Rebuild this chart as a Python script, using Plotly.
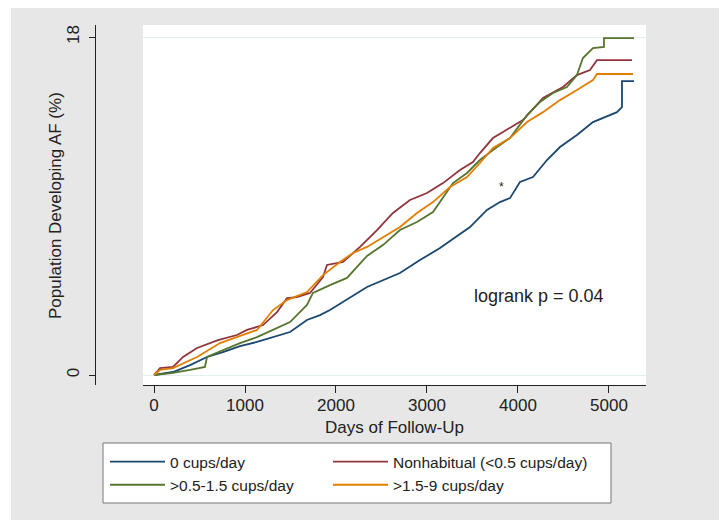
import plotly.graph_objects as go

# ---- data ----
days_0cups = [0, 209, 396, 582, 758, 945, 1132, 1308, 1495, 1681, 1824, 1934, 2154, 2341, 2703, 2923,
              3143, 3473, 3659, 3802, 3912, 4022, 4165, 4319, 4462, 4648, 4824, 5011, 5088, 5143, 5143, 5275]
af_0cups = [0, 0.16, 0.53, 0.96, 1.22, 1.54, 1.76, 2.02, 2.29, 2.93, 3.19, 3.46, 4.15, 4.69, 5.43, 6.12,
            6.76, 7.88, 8.79, 9.21, 9.42, 10.28, 10.54, 11.45, 12.14, 12.78, 13.47, 13.84, 14.0, 14.27, 15.65, 15.65]

days_nonhab = [0, 66, 209, 319, 473, 703, 912, 1022, 1198, 1352, 1462, 1571, 1714, 1857, 1901, 2077,
               2264, 2451, 2626, 2813, 3000, 3176, 3363, 3505, 3582, 3725, 3835, 4055, 4275, 4495,
               4648, 4791, 4868, 5253]
af_nonhab = [0, 0.37, 0.43, 0.96, 1.44, 1.86, 2.13, 2.40, 2.66, 3.35, 4.10, 4.15, 4.37, 5.22, 5.86, 6.02,
             6.82, 7.72, 8.63, 9.32, 9.69, 10.22, 10.92, 11.34, 11.82, 12.62, 12.94, 13.58, 14.75, 15.34,
             15.97, 16.24, 16.77, 16.77]

days_low = [0, 209, 396, 560, 582, 758, 945, 1132, 1308, 1495, 1681, 1747, 1934, 2121, 2341, 2516, 2703,
            2890, 3066, 3176, 3286, 3440, 3582, 3725, 3912, 4099, 4242, 4385, 4538, 4648, 4714, 4824,
            4945, 4945, 5275]
af_low = [0, 0.11, 0.27, 0.43, 0.96, 1.33, 1.70, 2.02, 2.40, 2.82, 3.73, 4.37, 4.79, 5.17, 6.34, 6.92,
          7.72, 8.15, 8.68, 9.42, 10.22, 10.76, 11.45, 11.98, 12.62, 13.84, 14.54, 15.02, 15.34, 15.97,
          16.88, 17.41, 17.47, 17.94, 17.94]

days_high = [0, 66, 209, 473, 725, 912, 1132, 1308, 1462, 1681, 1857, 2044, 2187, 2341, 2516, 2703,
             2890, 3066, 3253, 3440, 3582, 3725, 3912, 4099, 4275, 4462, 4648, 4824, 4868, 5264]
af_high = [0, 0.27, 0.37, 0.96, 1.70, 2.02, 2.40, 3.46, 3.99, 4.42, 5.32, 6.02, 6.50, 6.82, 7.35, 7.88,
           8.63, 9.21, 10.01, 10.54, 11.29, 12.09, 12.62, 13.47, 14.0, 14.64, 15.18, 15.71, 16.03, 16.03]

series_names = ["0 cups/day", "Nonhabitual (<0.5 cups/day)", ">0.5-1.5 cups/day", ">1.5-9 cups/day"]
series_colors = ["#1a476f", "#90353b", "#55752f", "#e37e00"]
series_legend = ["legend", "legend2", "legend", "legend2"]   # left / right legend column
x_ticks = [0, 1000, 2000, 3000, 4000, 5000]
y_ticks = [0, 18]

# the page adds an 8px body margin, so the figure is 8px smaller than the window
OFF = 8
W, H = 727 - OFF, 521 - OFF
FONT = "Liberation Sans, Arial, Helvetica, sans-serif"
TXT = "#222222"


def fx(px):
    return (px - OFF) / W


def fy(py):
    return 1 - (py - OFF) / H


fig = go.Figure()
for xs, ys, name, col, lg in zip([days_0cups, days_nonhab, days_low, days_high],
                                 [af_0cups, af_nonhab, af_low, af_high],
                                 series_names, series_colors, series_legend):
    fig.add_trace(go.Scatter(x=xs, y=ys, mode="lines", name=name, legend=lg,
                             line=dict(color=col, width=1.8)))

fig.add_annotation(x=3824, y=10.0, xref="x", yref="y", text="*", showarrow=False,
                   font=dict(size=12, color=TXT, family=FONT))
fig.add_annotation(x=(472 - 154) / 0.091, y=(375 - 296) / 18.78, xref="x", yref="y",
                   text="logrank p = 0.04", showarrow=False, xanchor="left", yanchor="middle",
                   font=dict(size=18, color=TXT, family=FONT))
fig.add_annotation(x=fx(55), y=fy(206), xref="paper", yref="paper",
                   text="Population Developing AF (%)", textangle=-90, showarrow=False,
                   xanchor="center", yanchor="middle", font=dict(size=17, color=TXT, family=FONT))

shapes = [
    # white strips round the grey graph region
    dict(type="rect", xref="paper", yref="paper", x0=0, x1=fx(11), y0=0, y1=1,
         fillcolor="white", line=dict(width=0), layer="above"),
    dict(type="rect", xref="paper", yref="paper", x0=fx(719), x1=1, y0=0, y1=1,
         fillcolor="white", line=dict(width=0), layer="above"),
    dict(type="rect", xref="paper", yref="paper", x0=0, x1=1, y0=0, y1=fy(520),
         fillcolor="white", line=dict(width=0), layer="above"),
    # legend box
    dict(type="rect", xref="paper", yref="paper", x0=fx(103), x1=fx(611),
         y0=fy(503), y1=fy(443), fillcolor="white",
         line=dict(color="#777777", width=1), layer="above"),
]

legend_common = dict(orientation="v", xanchor="left", yanchor="top",
                     bgcolor="rgba(0,0,0,0)", borderwidth=0, itemwidth=55,
                     font=dict(size=15.5, color=TXT, family=FONT))

fig.update_layout(
    width=W, height=H, autosize=False,
    margin=dict(l=0, r=0, t=0, b=0),
    paper_bgcolor="#e7e7e7", plot_bgcolor="white",
    font=dict(family=FONT, color=TXT),
    shapes=shapes,
    showlegend=True,
    legend=dict(x=fx(105), y=fy(445), **legend_common),
    legend2=dict(x=fx(328), y=fy(445), **legend_common),
    xaxis=dict(domain=[fx(143), fx(646)], range=[-121, 5407], tickvals=x_ticks,
               showgrid=False, zeroline=False, showline=True, linecolor="#222", linewidth=1,
               ticks="outside", ticklen=7, tickcolor="#222", ticklabelstandoff=-2,
               tickfont=dict(size=17, color=TXT), title=dict(text="Days of Follow-Up",
               font=dict(size=17, color=TXT), standoff=6)),
    yaxis=dict(domain=[fy(385), fy(25)], range=[-0.532, 18.64], tickvals=y_ticks,
               anchor="free", position=fx(95), showgrid=True, gridcolor="#e3eef0", gridwidth=1,
               zeroline=False, showline=True, linecolor="#222", linewidth=1,
               ticks="outside", ticklen=6, tickcolor="#222", tickangle=-90,
               tickfont=dict(size=17, color=TXT), ticklabelstandoff=3),
)

fig.write_html("out.html")
